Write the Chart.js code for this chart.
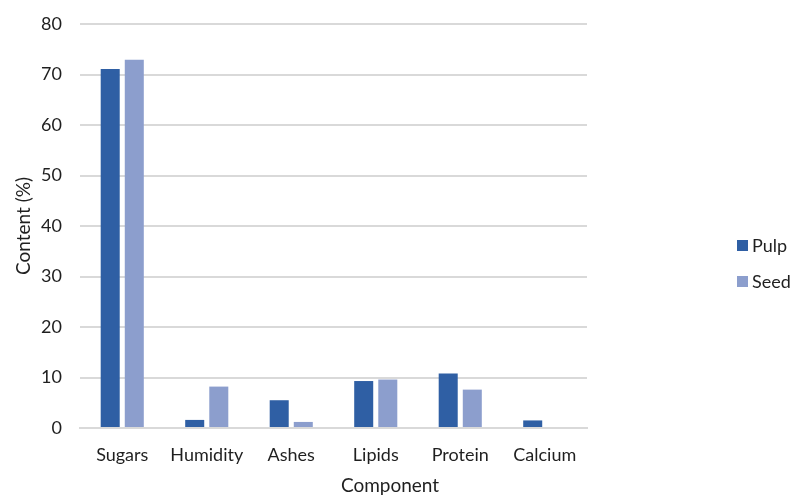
<!DOCTYPE html>
<html>
<head>
<meta charset="utf-8">
<script src="https://cdn.jsdelivr.net/npm/chart.js@4/dist/chart.umd.min.js"></script>
<style>
  html, body { margin: 0; padding: 0; background: #fff; }
  #wrap { width: 792px; height: 497px; position: relative; }
</style>
</head>
<body>
<div id="wrap"><canvas id="c" width="792" height="497"></canvas></div>
<script>
// Composition of the fruit by component (% content)
const components = ['Sugars', 'Humidity', 'Ashes', 'Lipids', 'Protein', 'Calcium'];
const pulpValues = [71.1, 1.6, 5.5, 9.3, 10.8, 1.5];
const seedValues = [72.9, 8.2, 1.2, 9.6, 7.6, 0];
const yTicks = [0, 10, 20, 30, 40, 50, 60, 70, 80];

const FONT = 'Lato, "Open Sans", sans-serif';
const TEXT = '#1f1f1f';
const GRID = '#d9d9d9';

// Legend at the right and axis titles, drawn on the canvas
const sidePieces = {
  id: 'sidePieces',
  afterDraw(chart) {
    const ctx = chart.ctx;
    ctx.save();
    ctx.font = '18px ' + FONT;
    ctx.textBaseline = 'middle';
    const rows = [245, 281];
    chart.data.datasets.forEach((ds, i) => {
      ctx.fillStyle = ds.backgroundColor;
      ctx.fillRect(737, rows[i] - 5, 11, 11);
      ctx.fillStyle = TEXT;
      ctx.textAlign = 'left';
      ctx.fillText(ds.label, 752, rows[i] + 1);
    });
    // x-axis title
    ctx.textAlign = 'center';
    ctx.font = '19px ' + FONT;
    ctx.fillText('Component', 390, 486);
    // y-axis title
    ctx.translate(24, 226);
    ctx.rotate(-Math.PI / 2);
    ctx.fillText('Content (%)', 0, 0);
    ctx.restore();
  }
};

new Chart(document.getElementById('c'), {
  type: 'bar',
  data: {
    labels: components,
    datasets: [
      { label: 'Pulp', data: pulpValues, backgroundColor: '#2f5fa4' },
      { label: 'Seed', data: seedValues, backgroundColor: '#8c9ecd' }
    ]
  },
  options: {
    responsive: false,
    animation: false,
    layout: { padding: { left: 0, right: 205, top: 24, bottom: 0 } },
    datasets: { bar: { categoryPercentage: 0.57, barPercentage: 0.79 } },
    plugins: { legend: { display: false }, tooltip: { enabled: false } },
    scales: {
      x: {
        grid: { display: false, drawTicks: false },
        border: { color: GRID, width: 2 },
        ticks: { color: TEXT, font: { family: FONT, size: 18 }, padding: 16 },
        afterFit(scale) { scale.height = 69; }
      },
      y: {
        min: 0, max: 80,
        afterBuildTicks(scale) { scale.ticks = yTicks.map(v => ({ value: v })); },
        grid: { color: GRID, lineWidth: 2, drawTicks: false },
        border: { display: false },
        ticks: { color: TEXT, font: { family: FONT, size: 18 }, padding: 18 },
        afterFit(scale) {
          scale.width = 80;
          scale.paddingTop = 0;
          scale.paddingBottom = 0;
        }
      }
    }
  },
  plugins: [sidePieces]
});
</script>
</body>
</html>
